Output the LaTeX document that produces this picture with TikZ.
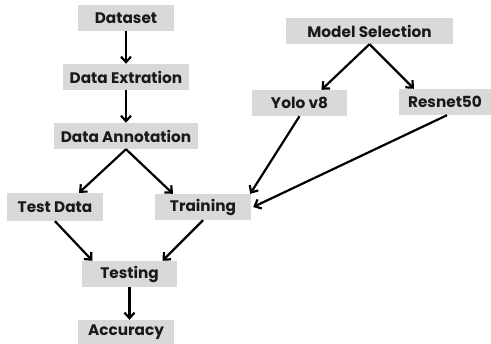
\documentclass[tikz,border=0pt]{standalone}
\usepackage{fontspec}
\setmainfont{Poppins}
\usetikzlibrary{arrows.meta,calc}
\begin{document}
\begin{tikzpicture}[x=1pt,y=-1pt,
  box/.style={fill=gray!30, inner sep=0pt, minimum height=26pt,
    font=\fontsize{15.3}{17}\selectfont\bfseries, text=black!90},
  flow/.style={line width=2.2pt, -{Straight Barb[length=5.5pt,width=10pt,line width=2.2pt]}}]
  \useasboundingbox (0,0) rectangle (491,344);

  % left column: data preparation
  \node[box, minimum width=96pt]  (dataset)  at (126,18)    {Dataset};
  \node[box, minimum width=126pt] (extract)  at (126,77)    {Data Extration};
  \node[box, minimum width=144pt] (annot)    at (126,136)   {Data Annotation};
  \node[box, minimum width=96pt, minimum height=28pt] (testdata) at (55,207) {Test Data};
  \node[box, minimum width=96pt]  (training) at (203,207)   {Training};
  \node[box, minimum width=95pt]  (testing)  at (129.5,274) {Testing};
  \node[box, minimum width=96pt, minimum height=24pt] (accuracy) at (126,332) {Accuracy};

  % right branch: model choice
  \node[box, minimum width=167pt] (model)  at (369.5,31)  {Model Selection};
  \node[box, minimum width=95pt]  (yolo)   at (299.5,103) {Yolo v8};
  \node[box, minimum width=92pt]  (resnet) at (445,102)   {Resnet50};

  \draw[flow] (dataset.south) -- (extract.north);
  \draw[flow] (extract.south) -- (annot.north);
  \draw[flow] (annot.south) -- ($(testdata.north)+(24,0)$);
  \draw[flow] (annot.south) -- ($(training.north)+(-30,0)$);

  \draw[flow] (model.south) -- ($(yolo.north)+(22,0)$);
  \draw[flow] (model.south) -- ($(resnet.north)+(-31,0)$);
  \draw[flow] (yolo.south) -- ($(training.north east)+(-1,0)$);
  \draw[flow] ($(resnet.south)+(2,0)$) -- ($(training.east)+(2,0)$);

  \draw[flow] (testdata.south) -- ($(testing.north)+(-37,0)$);
  \draw[flow] (training.south) -- ($(testing.north)+(33,0)$);
  \draw[flow] (testing.south) -- ($(accuracy.north)+(3.5,0)$);
\end{tikzpicture}
\end{document}
